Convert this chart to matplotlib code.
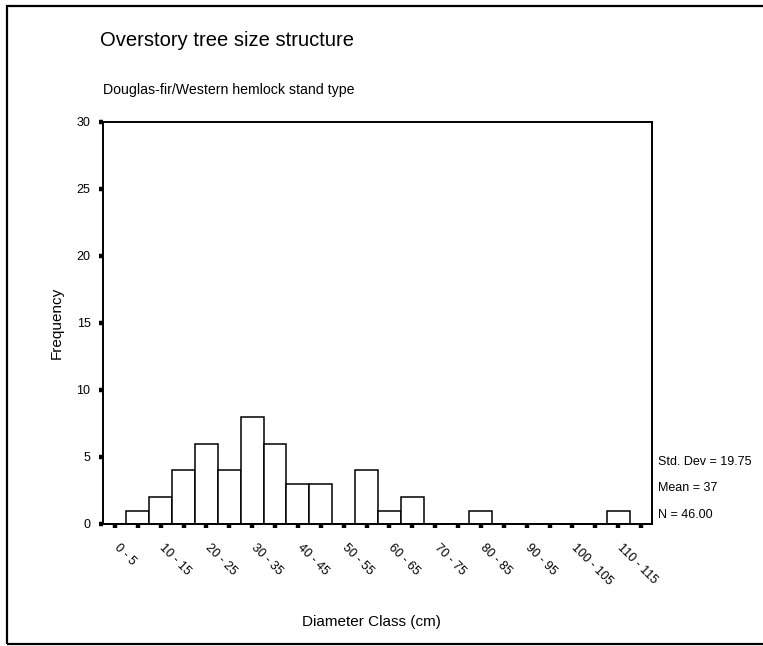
import matplotlib
matplotlib.use('Agg')
import matplotlib.pyplot as plt
import matplotlib.transforms as mtransforms
from matplotlib.patches import Rectangle

# diameter classes, 5 cm wide, 0-5 .. 115-120
class_labels = ['%d - %d' % (lo, lo + 5) for lo in range(0, 120, 5)]
counts = [0, 1, 2, 4, 6, 4, 8, 6, 3, 3, 0, 4,
          1, 2, 0, 0, 1, 0, 0, 0, 0, 0, 1, 0]
y_ticks = [0, 5, 10, 15, 20, 25, 30]
stats = ['Std. Dev = 19.75', 'Mean = 37', 'N = 46.00']

plt.rcParams['font.family'] = ['Liberation Sans', 'DejaVu Sans']

fig = plt.figure(figsize=(7.63, 6.46), dpi=100)
ax = fig.add_axes([0.135, 0.1889, 0.7195, 0.6223])

x = list(range(len(counts)))
ax.bar(x, counts, width=1.0, color='white', edgecolor='black', linewidth=1.1)

ax.set_xlim(-0.52, len(counts) - 0.52)
ax.set_ylim(0, 30)
ax.set_yticks(y_ticks)
ax.set_xticks(x)
# only every other class gets a label
ax.set_xticklabels([lab if i % 2 == 0 else '' for i, lab in enumerate(class_labels)],
                   rotation=-45, ha='left', va='top', rotation_mode='anchor', fontsize=9)
ax.tick_params(axis='x', length=3, width=3.2, pad=10)
ax.tick_params(axis='y', length=3, width=3.2, pad=6, labelsize=9)

# nudge the slanted class labels a little to the right
shift = mtransforms.ScaledTranslation(5 / 100, 0, fig.dpi_scale_trans)
for lab in ax.get_xticklabels():
    lab.set_transform(lab.get_transform() + shift)

for s in ax.spines.values():
    s.set_linewidth(1.4)

ax.set_ylabel('Frequency', fontsize=11, labelpad=9)

fig.text(0.131, 0.938, 'Overstory tree size structure', fontsize=14.5, va='center')
fig.text(0.135, 0.861, 'Douglas-fir/Western hemlock stand type', fontsize=10.2, va='center')
fig.text(0.487, 0.037, 'Diameter Class (cm)', fontsize=11, ha='center', va='center')

for i, txt in enumerate(stats):
    fig.text(0.862, 0.285 - i * 0.041, txt, fontsize=9, va='center')

# outer frame
fig.patches.append(Rectangle((7 / 763, 2 / 646), 1.0, 638 / 646, transform=fig.transFigure,
                             fill=False, edgecolor='black', linewidth=1.6))

fig.savefig('out.png', dpi=100)
